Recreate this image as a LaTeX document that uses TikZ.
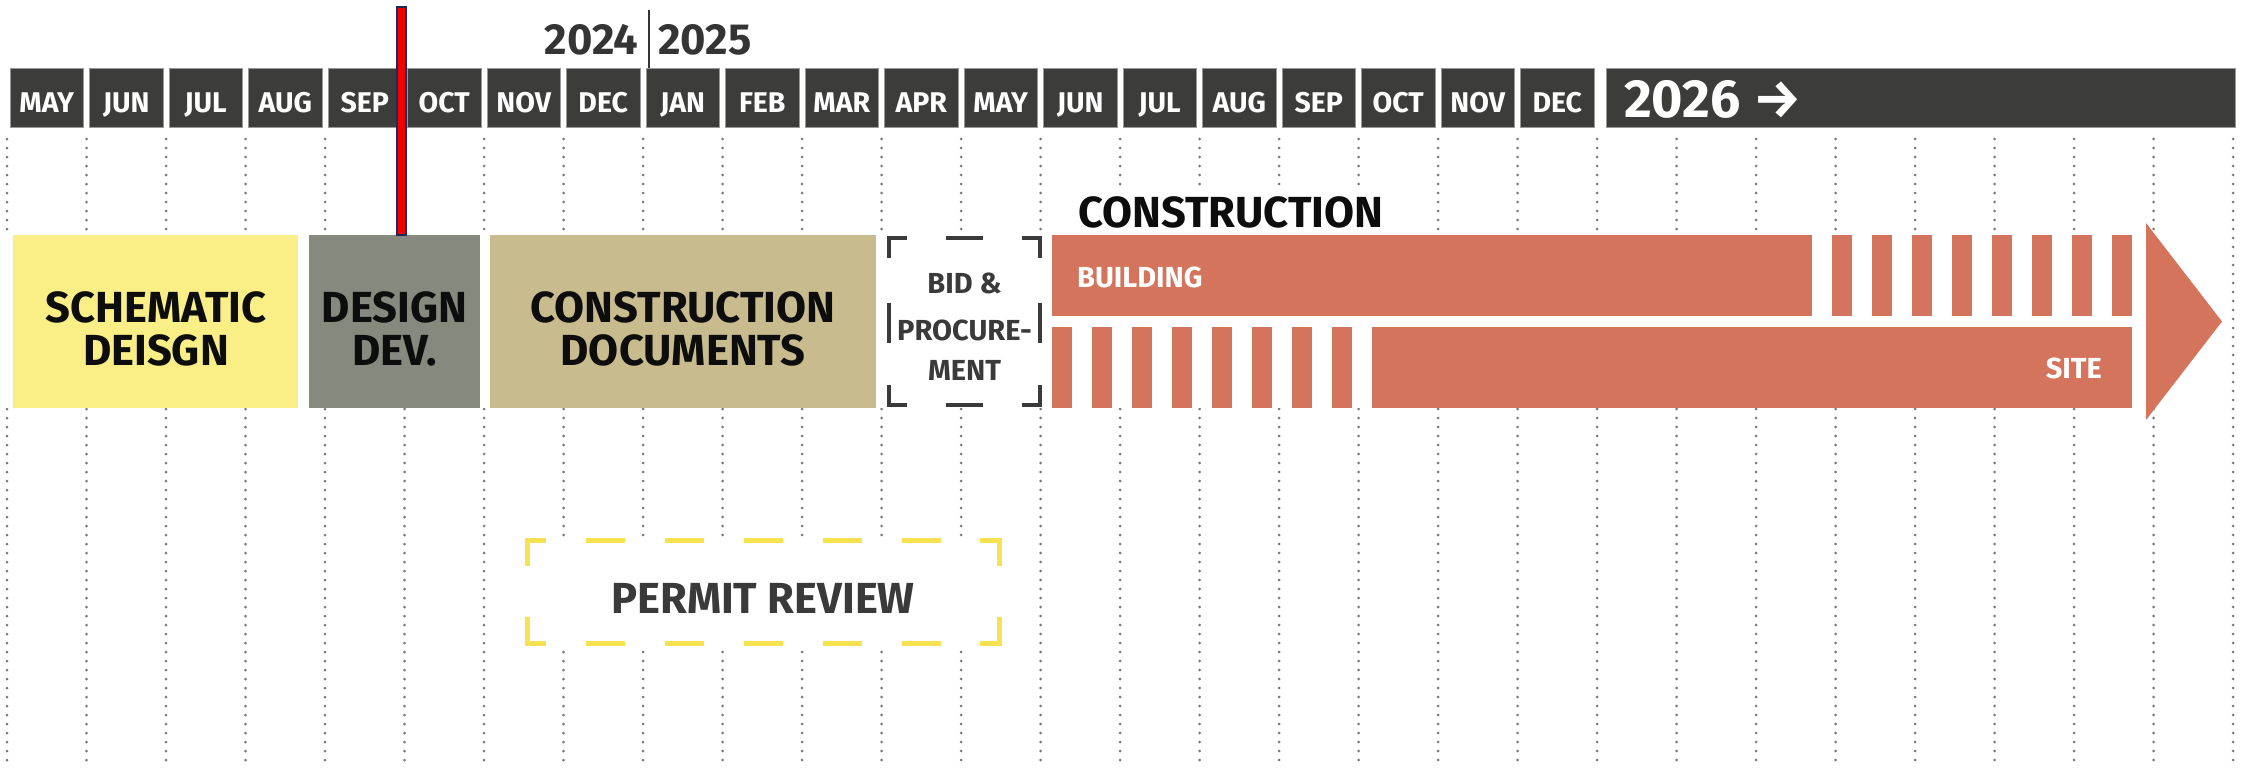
\documentclass[tikz,border=0pt]{standalone}
\usepackage{fontspec}
\setmainfont{Fira Sans}
\definecolor{barc}{HTML}{3C3C3A}
\definecolor{schem}{HTML}{FAEF87}
\definecolor{ddev}{HTML}{85897E}
\definecolor{cdoc}{HTML}{C8BC8E}
\definecolor{cons}{HTML}{D4745C}
\definecolor{permitc}{HTML}{F7E250}
\definecolor{dotc}{HTML}{7A7A7A}
\definecolor{darktxt}{HTML}{343434}
\definecolor{bidc}{HTML}{3A3A3A}
\definecolor{navy}{HTML}{1F2A5A}
\definecolor{redl}{HTML}{F20000}
\begin{document}
\begin{tikzpicture}[x=1pt,y=-1pt,
  monthbox/.style={fill=barc, draw=black!40, line width=0.8pt, minimum width=73.5pt,
    minimum height=59pt, inner sep=0pt, text=white,
    font=\bfseries\fontsize{28.5}{30}\selectfont, text height=29.5pt, text depth=0pt},
  yeartext/.style={inner sep=0pt, text=darktxt, font=\bfseries\fontsize{43.5}{45}\selectfont},
  phasetext/.style={align=center, inner sep=0pt, text=black!95,
    font=\bfseries\fontsize{43.5}{43}\selectfont},
  smalltext/.style={inner sep=0pt, font=\bfseries\fontsize{29}{40}\selectfont},
  dotline/.style={dotc, line width=3pt, line cap=round, dash pattern=on 0pt off 9pt},
  bidline/.style={bidc, line width=4pt, line join=miter},
  permitline/.style={permitc, line width=5pt, line join=miter}]
\useasboundingbox (0,0) rectangle (2248,768);

% dotted month grid
\foreach \k in {0,...,28}
  \draw[dotline] ({7+79.5*\k},139) -- ({7+79.5*\k},766);

% month bar
\foreach \m [count=\i from 0] in {MAY,JUN,JUL,AUG,SEP,OCT,NOV,DEC,JAN,FEB,MAR,APR,MAY,JUN,JUL,AUG,SEP,OCT,NOV,DEC}
  \node[monthbox] (m\i) at ({7+79.5*\i+39.75},97.5) {\m};
\filldraw[fill=barc, draw=black!40, line width=0.8pt] (1606,68) rectangle (2235,127);
\node[inner sep=0pt, anchor=base west, text=white, font=\bfseries\fontsize{53.7}{56}\selectfont] (y26) at (1624,117) {2026 →};

% years
\node[yeartext, anchor=base east] (y24) at (638,55) {2024};
\node[yeartext, anchor=base west] (y25) at (658,55) {2025};
\draw[darktxt, line width=2pt] (649,10) -- (649,68);

% phase row background
\fill[white] (0,235) rectangle (2146,408);

% phases
\fill[schem] (12.7,235) rectangle (298,408);
\fill[ddev] (309,235) rectangle (480,408);
\fill[cdoc] (490,235) rectangle (876,408);
\node[phasetext] (sdt) at (156,328.5) {SCHEMATIC\\DEISGN};
\node[phasetext] (ddt) at (394.5,328.5) {DESIGN\\DEV.};
\node[phasetext] (cdt) at (683,328.5) {CONSTRUCTION\\DOCUMENTS};

% today marker
\filldraw[fill=redl, draw=navy, line width=2pt] (397,7) rectangle (406,235);

% bid & procurement
\draw[bidline] (889,258) -- (889,238) -- (907,238);
\draw[bidline] (1022,238) -- (1040,238) -- (1040,258);
\draw[bidline] (889,385) -- (889,405) -- (907,405);
\draw[bidline] (1022,405) -- (1040,405) -- (1040,385);
\draw[bidline] (945.5,238) -- (982.5,238);
\draw[bidline] (945.5,405) -- (982.5,405);
\draw[bidline] (889,303) -- (889,343);
\draw[bidline] (1040,303) -- (1040,343);
\node[smalltext, align=center, text=bidc] (bidt) at (964.5,326.5) {BID \&\\[7pt]PROCURE-\\MENT};

% construction
\fill[cons] (1052,235) rectangle (1812,316);
\foreach \i in {0,...,7}
  \fill[cons] ({1832+40*\i},235) rectangle ++(20,81);
\foreach \i in {0,...,7}
  \fill[cons] ({1052+40*\i},327) rectangle ++(20,81);
\fill[cons] (1372,327) rectangle (2132,408);
\fill[cons] (2146,223) -- (2222,321.5) -- (2146,420) -- cycle;
\node[smalltext, anchor=base west, text=white] (bld) at (1077,287) {BUILDING};
\node[smalltext, anchor=base east, text=white] (site) at (2102,378) {SITE};
\node[anchor=base west, fill=white, inner xsep=4pt, inner ysep=6pt, text=black!95,
  font=\bfseries\fontsize{43.5}{45}\selectfont] (cons) at (1074,227) {CONSTRUCTION};

% permit review
\fill[white] (525,538) rectangle (1002,646);
\draw[permitline] (527.5,566) -- (527.5,540.5) -- (546,540.5);
\draw[permitline] (980,540.5) -- (999.5,540.5) -- (999.5,566);
\draw[permitline] (527.5,617) -- (527.5,643.5) -- (546,643.5);
\draw[permitline] (980,643.5) -- (999.5,643.5) -- (999.5,617);
\foreach \i in {0,...,4}{
  \draw[permitline] ({586+79*\i},540.5) -- ++(39,0);
  \draw[permitline] ({586+79*\i},643.5) -- ++(39,0);
}
\node[inner sep=0pt, text=bidc, font=\bfseries\fontsize{43.5}{45}\selectfont] (prt) at (763,598) {PERMIT REVIEW};
\end{tikzpicture}
\end{document}
